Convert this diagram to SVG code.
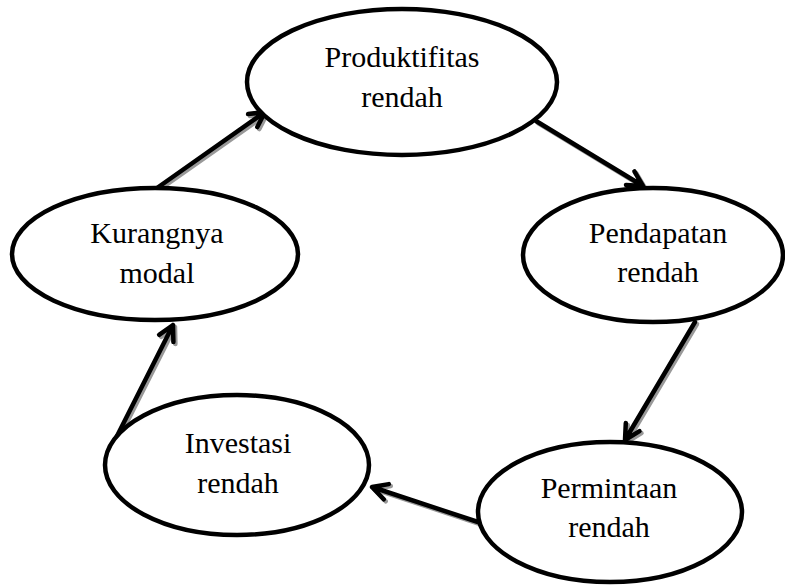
<svg xmlns="http://www.w3.org/2000/svg" xmlns:xlink="http://www.w3.org/1999/xlink" width="785" height="586" viewBox="0 0 785 586">
<style>
.node ellipse{fill:#fff;stroke:#000;stroke-width:4.5}
.node text{font-family:"Liberation Serif","Times New Roman",serif;font-size:30px;fill:#000;text-anchor:middle}
.conn{fill:none;stroke:#000;stroke-width:4.5;stroke-linecap:round;stroke-linejoin:round}
.shadow{fill:none;stroke:#999;stroke-width:4.5;stroke-linecap:round;stroke-linejoin:round}
</style>
<defs>
<path id="a1" d="M157,188 L265,112 M257.3,127.1 L265,112 L248.1,114.1"/>
<path id="a2" d="M536,121 L643,186 M626,185 L643,186 L634.4,171.4"/>
<path id="a3" d="M695,322 L625,440 M625.8,423 L625,440 L639.5,431.2"/>
<path id="a4" d="M478,522 L372,487 M388.8,484.1 L372,487 L383.7,499.3"/>
<path id="a5" d="M115,440 L173,325 M173.4,342 L173,325 L159.1,334.8"/>
</defs>
<rect width="785" height="586" fill="#fff"/>
<g id="connectors">
<g transform="translate(2,2)">
<use xlink:href="#a1" class="shadow"/>
<use xlink:href="#a2" class="shadow"/>
<use xlink:href="#a3" class="shadow"/>
<use xlink:href="#a4" class="shadow"/>
<use xlink:href="#a5" class="shadow"/>
</g>
<use xlink:href="#a1" class="conn"/>
<use xlink:href="#a2" class="conn"/>
<use xlink:href="#a3" class="conn"/>
<use xlink:href="#a4" class="conn"/>
<use xlink:href="#a5" class="conn"/>
</g>
<g id="produktifitas" class="node">
<ellipse cx="402" cy="82" rx="155" ry="73"/>
<text x="402" y="67">Produktifitas</text>
<text x="402" y="107">rendah</text>
</g>
<g id="pendapatan" class="node">
<ellipse cx="653" cy="255" rx="130" ry="67"/>
<text x="658" y="243">Pendapatan</text>
<text x="658" y="282">rendah</text>
</g>
<g id="permintaan" class="node">
<ellipse cx="610" cy="512" rx="132" ry="70"/>
<text x="609" y="498">Permintaan</text>
<text x="609" y="537">rendah</text>
</g>
<g id="investasi" class="node">
<ellipse cx="237" cy="465" rx="132" ry="70"/>
<text x="238" y="453">Investasi</text>
<text x="238" y="493">rendah</text>
</g>
<g id="kurangnya" class="node">
<ellipse cx="155" cy="254" rx="143" ry="66"/>
<text x="157" y="243">Kurangnya</text>
<text x="157" y="283">modal</text>
</g>
</svg>
